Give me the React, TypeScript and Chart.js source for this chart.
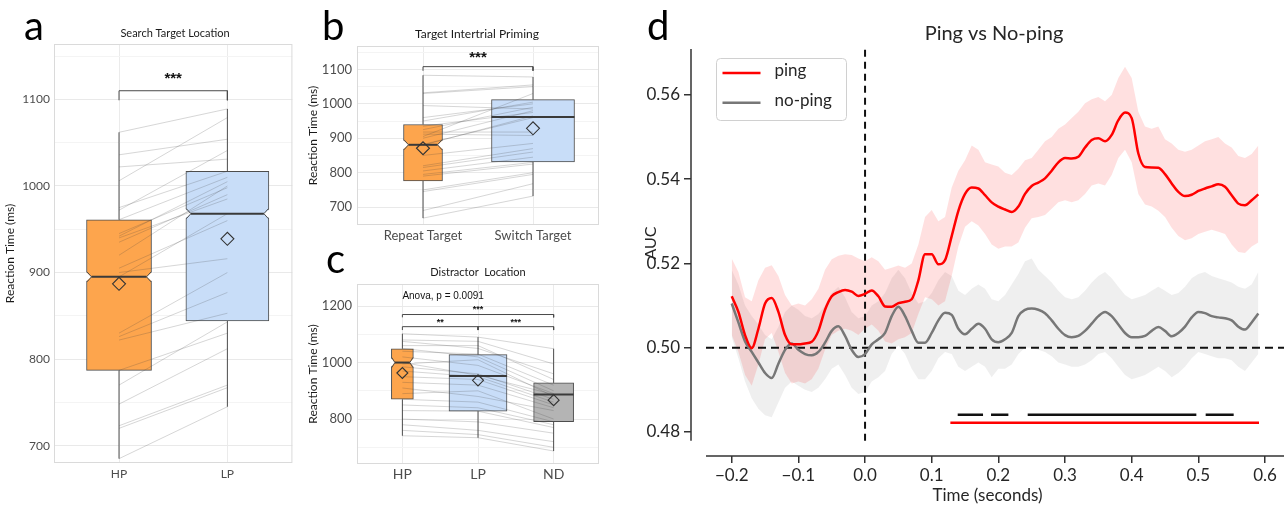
import React, { useEffect, useRef } from 'react';
import { Chart, registerables } from 'chart.js';

Chart.register(...registerables);

// ======================= DATA =======================
// ---- Panel a : Search Target Location ----
const A_CATEGORIES = ['HP', 'LP'];
const A_WHISKER_LOW = [685, 745];
const A_Q1 = [787, 844];
const A_MEDIAN = [895, 968];
const A_Q3 = [961, 1017];
const A_WHISKER_HIGH = [1062, 1089];
const A_MEAN = [887, 939];
const A_SUBJ_HP = [1062, 1036, 1022, 1006, 975, 972, 961, 945, 942, 940, 935, 920, 905, 900, 895, 830, 826, 822, 787, 770, 748, 723, 720, 685];
const A_SUBJ_LP = [1089, 1054, 1031, 1079, 1017, 1041, 1010, 998, 1005, 985, 990, 1000, 960, 916, 968, 900, 877, 853, 830, 843, 812, 770, 767, 745];
const A_Y_MAJOR = [700, 800, 900, 1000, 1100];
const A_Y_MINOR = [750, 850, 950, 1050, 1150];
const A_BRACKETS = [{ from: 1, to: 2, y: 1110, drop: 11 }];
const A_NOTES = [{ x: 1.5, y: 1129, text: '***', kind: 'stars' }];

// ---- Panel b : Target Intertrial Priming ----
const B_CATEGORIES = ['Repeat Target', 'Switch Target'];
const B_WHISKER_LOW = [668, 732];
const B_Q1 = [776, 831];
const B_MEDIAN = [881, 962];
const B_Q3 = [940, 1012];
const B_WHISKER_HIGH = [1083, 1078];
const B_MEAN = [871, 929];
const B_SUBJ_REPEAT = [1083, 1032, 1030, 995, 960, 950, 935, 925, 918, 912, 905, 900, 882, 880, 850, 820, 815, 805, 795, 790, 750, 745, 690, 668];
const B_SUBJ_SWITCH = [1078, 1055, 1050, 985, 1000, 1005, 975, 990, 918, 908, 1030, 980, 960, 965, 885, 870, 860, 845, 830, 825, 800, 795, 768, 732];
const B_Y_MAJOR = [700, 800, 900, 1000, 1100];
const B_Y_MINOR = [650, 750, 850, 950, 1050, 1150];
const B_BRACKETS = [{ from: 1, to: 2, y: 1108, drop: 12 }];
const B_NOTES = [{ x: 1.5, y: 1148, text: '***', kind: 'stars' }];

// ---- Panel c : Distractor Location ----
const C_CATEGORIES = ['HP', 'LP', 'ND'];
const C_WHISKER_LOW = [741, 734, 687];
const C_Q1 = [870, 828, 791];
const C_MEDIAN = [1000, 952, 887];
const C_Q3 = [1049, 1028, 928];
const C_WHISKER_HIGH = [1102, 1090, 1049];
const C_MEAN = [963, 937, 867];
const C_SUBJ_HP = [1102, 1080, 1075, 1060, 1050, 1040, 1020, 1000, 995, 985, 970, 950, 930, 910, 890, 870, 850, 830, 800, 780, 760, 741];
const C_SUBJ_LP = [1090, 1075, 1050, 1060, 1020, 1030, 990, 955, 1010, 960, 950, 940, 920, 880, 900, 860, 840, 828, 790, 760, 745, 734];
const C_SUBJ_ND = [1049, 995, 960, 940, 900, 920, 890, 887, 880, 870, 860, 850, 840, 830, 800, 790, 780, 770, 750, 720, 700, 687];
const C_Y_MAJOR = [800, 1000, 1200];
const C_Y_MINOR = [700, 900, 1100];
const C_BRACKETS = [
  { from: 1, to: 3, y: 1170, drop: 10 },
  { from: 1, to: 2, y: 1127, drop: 12 },
  { from: 2, to: 3, y: 1127, drop: 12 },
];
const C_NOTES = [
  { x: 1, y: 1236, text: 'Anova, p = 0.0091', kind: 'stat' },
  { x: 2, y: 1197, text: '***', kind: 'stars' },
  { x: 1.5, y: 1150, text: '**', kind: 'stars' },
  { x: 2.5, y: 1150, text: '***', kind: 'stars' },
];

// ---- Panel d : Ping vs No-ping (AUC time course) ----
const D_TIME = [
  -0.20, -0.19, -0.18, -0.17, -0.16, -0.15, -0.14, -0.13, -0.12, -0.11,
  -0.10, -0.09, -0.08, -0.07, -0.06, -0.05, -0.04, -0.03, -0.02, -0.01,
  0.00, 0.01, 0.02, 0.03, 0.04, 0.05, 0.06, 0.07, 0.08, 0.09,
  0.10, 0.11, 0.12, 0.13, 0.14, 0.15, 0.16, 0.17, 0.18, 0.19,
  0.20, 0.21, 0.22, 0.23, 0.24, 0.25, 0.26, 0.27, 0.28, 0.29,
  0.30, 0.31, 0.32, 0.33, 0.34, 0.35, 0.36, 0.37, 0.38, 0.39,
  0.40, 0.41, 0.42, 0.43, 0.44, 0.45, 0.46, 0.47, 0.48, 0.49,
  0.50, 0.51, 0.52, 0.53, 0.54, 0.55, 0.56, 0.57, 0.58, 0.59,
];
const PING_MEAN = [
  0.5122, 0.5085, 0.5030, 0.4999, 0.5045, 0.5105, 0.5118, 0.5085, 0.5030, 0.5008,
  0.5008, 0.5010, 0.5014, 0.5040, 0.5090, 0.5122, 0.5132, 0.5137, 0.5133, 0.5123,
  0.5128, 0.5136, 0.5122, 0.5098, 0.5097, 0.5106, 0.5109, 0.5115, 0.5160, 0.5222,
  0.5222, 0.5198, 0.5208, 0.5265, 0.5325, 0.5365, 0.5380, 0.5378, 0.5362, 0.5345,
  0.5335, 0.5328, 0.5322, 0.5335, 0.5365, 0.5384, 0.5392, 0.5402, 0.5420, 0.5440,
  0.5450, 0.5449, 0.5453, 0.5475, 0.5493, 0.5497, 0.5490, 0.5505, 0.5540, 0.5558,
  0.5545, 0.5461, 0.5429, 0.5428, 0.5427, 0.5412, 0.5390, 0.5370, 0.5360, 0.5363,
  0.5372, 0.5378, 0.5383, 0.5388, 0.5382, 0.5362, 0.5342, 0.5338, 0.5350, 0.5364,
];
const PING_UPPER = [
  0.5212, 0.5180, 0.5120, 0.5110, 0.5160, 0.5190, 0.5196, 0.5170, 0.5125, 0.5100,
  0.5105, 0.5100, 0.5115, 0.5140, 0.5185, 0.5210, 0.5218, 0.5222, 0.5220, 0.5212,
  0.5205, 0.5215, 0.5205, 0.5185, 0.5190, 0.5195, 0.5190, 0.5200, 0.5245, 0.5310,
  0.5327, 0.5300, 0.5310, 0.5380, 0.5420, 0.5445, 0.5480, 0.5470, 0.5440, 0.5435,
  0.5430, 0.5415, 0.5410, 0.5425, 0.5445, 0.5450, 0.5470, 0.5490, 0.5500, 0.5520,
  0.5530, 0.5545, 0.5560, 0.5580, 0.5590, 0.5595, 0.5585, 0.5600, 0.5640, 0.5667,
  0.5640, 0.5560, 0.5525, 0.5520, 0.5525, 0.5495, 0.5485, 0.5470, 0.5465, 0.5470,
  0.5480, 0.5490, 0.5495, 0.5500, 0.5485, 0.5475, 0.5455, 0.5450, 0.5460, 0.5480,
];
const PING_LOWER = [
  0.5030, 0.4990, 0.4935, 0.4910, 0.4960, 0.5020, 0.5035, 0.4990, 0.4940, 0.4915,
  0.4920, 0.4915, 0.4925, 0.4950, 0.4995, 0.5030, 0.5040, 0.5045, 0.5040, 0.5030,
  0.5045, 0.5055, 0.5040, 0.5015, 0.5010, 0.5020, 0.5025, 0.5035, 0.5080, 0.5120,
  0.5115, 0.5100, 0.5110, 0.5170, 0.5240, 0.5287, 0.5300, 0.5290, 0.5270, 0.5245,
  0.5235, 0.5240, 0.5240, 0.5250, 0.5285, 0.5307, 0.5310, 0.5315, 0.5330, 0.5345,
  0.5350, 0.5345, 0.5350, 0.5365, 0.5385, 0.5390, 0.5385, 0.5410, 0.5450, 0.5470,
  0.5440, 0.5365, 0.5340, 0.5335, 0.5325, 0.5310, 0.5285, 0.5265, 0.5255, 0.5260,
  0.5270, 0.5275, 0.5280, 0.5275, 0.5270, 0.5245, 0.5227, 0.5225, 0.5240, 0.5250,
];
const NOPING_MEAN = [
  0.5105, 0.5060, 0.5015, 0.4990, 0.4965, 0.4940, 0.4928, 0.4962, 0.4995, 0.5010,
  0.4995, 0.4985, 0.4982, 0.4990, 0.5012, 0.5040, 0.5051, 0.5028, 0.4995, 0.4978,
  0.4985, 0.5008, 0.5020, 0.5035, 0.5075, 0.5097, 0.5075, 0.5040, 0.5012, 0.5012,
  0.5035, 0.5065, 0.5083, 0.5078, 0.5045, 0.5032, 0.5045, 0.5057, 0.5045, 0.5020,
  0.5013, 0.5020, 0.5035, 0.5075, 0.5090, 0.5093, 0.5090, 0.5082, 0.5065, 0.5045,
  0.5030, 0.5025, 0.5028, 0.5040, 0.5057, 0.5075, 0.5085, 0.5075, 0.5055, 0.5035,
  0.5025, 0.5025, 0.5028, 0.5040, 0.5049, 0.5040, 0.5027, 0.5035, 0.5050, 0.5072,
  0.5085, 0.5082, 0.5075, 0.5072, 0.5070, 0.5065, 0.5050, 0.5043, 0.5060, 0.5081,
];
const NOPING_UPPER = [
  0.5185, 0.5150, 0.5100, 0.5075, 0.5055, 0.5030, 0.5020, 0.5050, 0.5085, 0.5100,
  0.5090, 0.5075, 0.5070, 0.5080, 0.5100, 0.5130, 0.5145, 0.5120, 0.5085, 0.5070,
  0.5075, 0.5100, 0.5110, 0.5130, 0.5165, 0.5185, 0.5165, 0.5130, 0.5105, 0.5110,
  0.5130, 0.5160, 0.5180, 0.5170, 0.5135, 0.5125, 0.5140, 0.5150, 0.5140, 0.5115,
  0.5110, 0.5125, 0.5150, 0.5175, 0.5205, 0.5212, 0.5185, 0.5170, 0.5155, 0.5135,
  0.5120, 0.5115, 0.5120, 0.5135, 0.5155, 0.5170, 0.5180, 0.5165, 0.5145, 0.5125,
  0.5115, 0.5120, 0.5125, 0.5135, 0.5145, 0.5135, 0.5125, 0.5130, 0.5145, 0.5165,
  0.5175, 0.5180, 0.5170, 0.5165, 0.5160, 0.5155, 0.5145, 0.5140, 0.5150, 0.5180,
];
const NOPING_LOWER = [
  0.5025, 0.4975, 0.4920, 0.4880, 0.4855, 0.4840, 0.4835, 0.4870, 0.4905, 0.4920,
  0.4910, 0.4900, 0.4895, 0.4905, 0.4925, 0.4950, 0.4960, 0.4935, 0.4905, 0.4890,
  0.4895, 0.4920, 0.4930, 0.4945, 0.4985, 0.5005, 0.4985, 0.4950, 0.4925, 0.4925,
  0.4945, 0.4975, 0.4990, 0.4985, 0.4955, 0.4945, 0.4955, 0.4965, 0.4955, 0.4930,
  0.4950, 0.4950, 0.4960, 0.4985, 0.5000, 0.5000, 0.4995, 0.4990, 0.4980, 0.4965,
  0.4960, 0.4955, 0.4955, 0.4960, 0.4970, 0.4985, 0.4990, 0.4975, 0.4955, 0.4935,
  0.4925, 0.4930, 0.4935, 0.4945, 0.4955, 0.4945, 0.4930, 0.4940, 0.4955, 0.4975,
  0.4990, 0.4985, 0.4980, 0.4975, 0.4975, 0.4970, 0.4955, 0.4945, 0.4965, 0.4985,
];
const D_SIG_PING_VS_NOPING = [[0.139, 0.177], [0.189, 0.215], [0.244, 0.497], [0.511, 0.553]];
const D_SIG_PING_VS_CHANCE = [[0.128, 0.591]];
const D_SIG_LEVEL_BLACK = 0.4841;
const D_SIG_LEVEL_RED = 0.4822;
const D_CHANCE = 0.5;
const D_ONSET = 0;
const D_X_LIMITS = [-0.2386, 0.6285];
const D_Y_LIMITS = [0.4779, 0.5709];

// ======================= STYLE =======================
const FONT = 'Lato';
const ORANGE = '#FDA54D';
const BLUE = '#C8DDF8';
const GREY_BOX = '#B4B4B4';

const PANEL_A = {
  cats: A_CATEGORIES, lo: A_WHISKER_LOW, q1: A_Q1, med: A_MEDIAN, q3: A_Q3, hi: A_WHISKER_HIGH, mean: A_MEAN,
  subjects: [A_SUBJ_HP, A_SUBJ_LP], major: A_Y_MAJOR, minor: A_Y_MINOR, brackets: A_BRACKETS, notes: A_NOTES,
  ylim: [680, 1164],
  size: { w: 300, h: 509 }, area: { left: 54, top: 44, right: 297, bottom: 463 },
  fills: [ORANGE, BLUE], widths: [65, 83], notch: [true, true], diamond: 6.5,
  tickSize: 12, xTickSize: 12, yTickPad: 4, xTickPad: 4, yTitlePad: 3, starSize: 15, statSize: 10,
  letter: { text: 'a', x: 24, y: 40 }, title: { text: 'Search Target Location', x: 175, y: 37, size: 11 },
};
const PANEL_B = {
  cats: B_CATEGORIES, lo: B_WHISKER_LOW, q1: B_Q1, med: B_MEDIAN, q3: B_Q3, hi: B_WHISKER_HIGH, mean: B_MEAN,
  subjects: [B_SUBJ_REPEAT, B_SUBJ_SWITCH], major: B_Y_MAJOR, minor: B_Y_MINOR, brackets: B_BRACKETS, notes: B_NOTES,
  ylim: [648, 1168],
  size: { w: 324, h: 250 }, area: { left: 61, top: 46, right: 303, bottom: 225 },
  fills: [ORANGE, BLUE], widths: [39, 83], notch: [true, false], diamond: 6.5,
  tickSize: 13, xTickSize: 13, yTickPad: 5, xTickPad: 3, yTitlePad: 10, starSize: 15, statSize: 10,
  letter: { text: 'b', x: 26, y: 40 }, title: { text: 'Target Intertrial Priming', x: 181, y: 38, size: 12 },
};
const PANEL_C = {
  cats: C_CATEGORIES, lo: C_WHISKER_LOW, q1: C_Q1, med: C_MEDIAN, q3: C_Q3, hi: C_WHISKER_HIGH, mean: C_MEAN,
  subjects: [C_SUBJ_HP, C_SUBJ_LP, C_SUBJ_ND], major: C_Y_MAJOR, minor: C_Y_MINOR, brackets: C_BRACKETS, notes: C_NOTES,
  ylim: [641, 1278],
  size: { w: 324, h: 259 }, area: { left: 61, top: 34, right: 303, bottom: 214 },
  fills: [ORANGE, BLUE, GREY_BOX], widths: [22, 58, 40], notch: [true, false, false], diamond: 5.5,
  tickSize: 13, xTickSize: 14, yTickPad: 5, xTickPad: 2, yTitlePad: 10, starSize: 9, statSize: 10,
  letter: { text: 'c', x: 30, y: 23 }, title: { text: 'Distractor  Location', x: 182, y: 26, size: 11 },
};

// ======================= BOX PANELS =======================
function boxChart(canvas: HTMLCanvasElement, p: any) {
  const n = p.cats.length;
  const xs = p.cats.map((_: string, i: number) => i + 1);
  const datasets: any[] = [];

  datasets.push({
    type: 'line', label: 'mean',
    data: p.mean.map((m: number, i: number) => ({ x: xs[i], y: m })),
    showLine: false, pointStyle: 'rectRot', pointRadius: p.diamond,
    pointBorderColor: '#333333', pointBackgroundColor: 'rgba(0,0,0,0)', pointBorderWidth: 1.1, order: 0,
  });
  const nSub = p.subjects[0].length;
  for (let s = 0; s < nSub; s++) {
    datasets.push({
      type: 'line', label: 'subject ' + (s + 1),
      data: p.subjects.map((arr: number[], i: number) => ({ x: xs[i], y: arr[s] })),
      borderColor: 'rgba(60,60,60,0.24)', borderWidth: 0.9, pointRadius: 0, order: 1,
    });
  }
  for (const b of p.brackets) {
    datasets.push({
      type: 'line', label: 'bracket',
      data: [{ x: b.from, y: b.y - b.drop }, { x: b.from, y: b.y }, { x: b.to, y: b.y }, { x: b.to, y: b.y - b.drop }],
      borderColor: '#4a4a4a', borderWidth: 1, pointRadius: 0, order: 1,
    });
  }
  for (let i = 0; i < n; i++) {
    datasets.push({
      type: 'bar', label: 'box ' + p.cats[i],
      data: [{ x: xs[i], y: [p.q1[i], p.q3[i]] }],
      backgroundColor: p.fills[i], borderColor: '#4d4d4d', borderWidth: 1, borderSkipped: false,
      grouped: false, barThickness: p.widths[i], maxBarThickness: p.widths[i], order: 2, boxIndex: i,
    });
    datasets.push({
      type: 'line', label: 'whisker ' + p.cats[i],
      data: [
        { x: xs[i], y: p.lo[i] }, { x: xs[i], y: p.q1[i] }, { x: xs[i], y: null },
        { x: xs[i], y: p.q3[i] }, { x: xs[i], y: p.hi[i] },
      ],
      spanGaps: false, borderColor: '#4d4d4d', borderWidth: 1, pointRadius: 0, order: 3,
    });
  }

  const allTicks = [...p.major, ...p.minor].sort((a: number, b: number) => a - b);

  const boxPlugin = {
    id: 'boxExtras',
    beforeDatasetsDraw(chart: any) {
      const { ctx, chartArea } = chart;
      ctx.save();
      ctx.strokeStyle = '#dadada';
      ctx.lineWidth = 1;
      ctx.strokeRect(chartArea.left + 0.5, chartArea.top + 0.5, chartArea.right - chartArea.left - 1, chartArea.bottom - chartArea.top - 1);
      ctx.restore();
    },
    afterDatasetDraw(chart: any, args: any) {
      const ds = chart.data.datasets[args.index];
      if (ds.boxIndex === undefined) return;
      const i = ds.boxIndex;
      const el = args.meta.data[0];
      if (!el) return;
      const { x, width } = el.getProps(['x', 'width'], true);
      const my = chart.scales.y.getPixelForValue(p.med[i]);
      const l = x - width / 2;
      const r = x + width / 2;
      const ctx = chart.ctx;
      ctx.save();
      let ml = l, mr = r;
      if (p.notch[i]) {
        const d = Math.min(5, width * 0.16);
        const h = 5;
        ctx.fillStyle = '#ffffff';
        ctx.beginPath();
        ctx.moveTo(l - 1, my - h); ctx.lineTo(l + d, my); ctx.lineTo(l - 1, my + h); ctx.closePath();
        ctx.moveTo(r + 1, my - h); ctx.lineTo(r - d, my); ctx.lineTo(r + 1, my + h); ctx.closePath();
        ctx.fill();
        ctx.strokeStyle = '#4d4d4d';
        ctx.lineWidth = 1;
        ctx.beginPath();
        ctx.moveTo(l + 0.5, my - h); ctx.lineTo(l + d, my); ctx.lineTo(l + 0.5, my + h);
        ctx.moveTo(r - 0.5, my - h); ctx.lineTo(r - d, my); ctx.lineTo(r - 0.5, my + h);
        ctx.stroke();
        ml = l + d; mr = r - d;
      }
      ctx.strokeStyle = '#3a3a3a';
      ctx.lineWidth = 2;
      ctx.beginPath();
      ctx.moveTo(ml, my); ctx.lineTo(mr, my);
      ctx.stroke();
      ctx.restore();
    },
    afterDraw(chart: any) {
      const ctx = chart.ctx;
      const xsS = chart.scales.x, ysS = chart.scales.y;
      ctx.save();
      ctx.fillStyle = '#000000';
      ctx.textAlign = 'left';
      ctx.textBaseline = 'alphabetic';
      ctx.font = `400 40px ${FONT}`;
      ctx.fillText(p.letter.text, p.letter.x, p.letter.y);
      ctx.fillStyle = '#1a1a1a';
      ctx.textAlign = 'center';
      ctx.font = `400 ${p.title.size}px ${FONT}`;
      ctx.fillText(p.title.text, p.title.x, p.title.y);
      for (const nt of p.notes) {
        const px = xsS.getPixelForValue(nt.x);
        const py = ysS.getPixelForValue(nt.y);
        if (nt.kind === 'stars') {
          ctx.font = `bold ${p.starSize}px "Liberation Sans"`;
          ctx.textAlign = 'center';
          ctx.textBaseline = 'alphabetic';
          ctx.fillStyle = '#111111';
          ctx.fillText(nt.text, px, py + 0.58 * p.starSize);
        } else {
          ctx.font = `${p.statSize}px "Liberation Sans"`;
          ctx.textAlign = 'left';
          ctx.textBaseline = 'middle';
          ctx.fillStyle = '#111111';
          ctx.fillText(nt.text, px, py);
        }
      }
      ctx.restore();
    },
  };

  return new Chart(canvas, {
    type: 'bar',
    data: { datasets },
    options: {
      responsive: false,
      animation: false,
      events: [],
      layout: { padding: { left: 0, top: p.area.top, right: p.size.w - p.area.right, bottom: 0 } },
      plugins: { legend: { display: false }, tooltip: { enabled: false } },
      scales: {
        x: {
          type: 'linear', min: 0.4, max: n + 0.6, offset: false,
          afterBuildTicks: (s: any) => { s.ticks = xs.map((v: number) => ({ value: v })); },
          ticks: {
            callback: (v: any) => p.cats[Number(v) - 1] ?? '',
            color: '#4d4d4d', font: { family: FONT, size: p.xTickSize }, padding: p.xTickPad,
            maxRotation: 0, autoSkip: false,
          },
          grid: { color: '#ebebeb', drawTicks: false, offset: false },
          border: { display: false },
          afterFit: (s: any) => { s.height = p.size.h - p.area.bottom; },
        },
        y: {
          type: 'linear', min: p.ylim[0], max: p.ylim[1], beginAtZero: false,
          afterBuildTicks: (s: any) => { s.ticks = allTicks.map((v: number) => ({ value: v })); },
          ticks: {
            callback: (v: any) => (p.major.includes(Number(v)) ? String(v) : ''),
            color: '#4d4d4d', font: { family: FONT, size: p.tickSize }, padding: p.yTickPad, autoSkip: false,
          },
          grid: {
            color: (c: any) => (c.tick && p.major.includes(c.tick.value) ? '#e9e9e9' : '#f4f4f4'),
            drawTicks: false,
          },
          border: { display: false },
          title: {
            display: true, text: 'Reaction Time (ms)', color: '#1a1a1a',
            font: { family: FONT, size: 12 }, padding: { top: p.yTitlePad, bottom: 0 },
          },
          afterFit: (s: any) => { s.width = p.area.left; },
        },
      },
    } as any,
    plugins: [boxPlugin],
  });
}

// ======================= PANEL D =======================
function aucChart(canvas: HTMLCanvasElement) {
  const pts = (vals: number[]) => D_TIME.map((t, i) => ({ x: t, y: vals[i] }));
  const segs = (list: number[][], level: number) =>
    list.flatMap(([a, b]) => [{ x: a, y: level }, { x: b, y: level }, { x: b, y: null }]);
  const band = { borderColor: 'rgba(0,0,0,0)', borderWidth: 0, pointRadius: 0, tension: 0 };

  const datasets: any[] = [
    { label: 'ping', data: pts(PING_MEAN), borderColor: '#ff0000', borderWidth: 2.5, pointRadius: 0, cubicInterpolationMode: 'monotone', fill: false, order: 0 },
    { label: 'no-ping', data: pts(NOPING_MEAN), borderColor: '#777777', borderWidth: 2.5, pointRadius: 0, cubicInterpolationMode: 'monotone', fill: false, order: 1 },
    { label: 'ping upper', data: pts(PING_UPPER), ...band, fill: '+1', backgroundColor: 'rgba(255,0,0,0.12)', order: 4 },
    { label: 'ping lower', data: pts(PING_LOWER), ...band, fill: false, order: 4 },
    { label: 'no-ping upper', data: pts(NOPING_UPPER), ...band, fill: '+1', backgroundColor: 'rgba(128,128,128,0.13)', order: 5 },
    { label: 'no-ping lower', data: pts(NOPING_LOWER), ...band, fill: false, order: 5 },
    { label: 'chance', data: [{ x: D_X_LIMITS[0], y: D_CHANCE }, { x: D_X_LIMITS[1], y: D_CHANCE }], borderColor: '#111111', borderWidth: 2, borderDash: [8, 5], pointRadius: 0, fill: false, order: 2 },
    { label: 'onset', data: [{ x: D_ONSET, y: D_Y_LIMITS[0] }, { x: D_ONSET, y: D_Y_LIMITS[1] }], borderColor: '#111111', borderWidth: 2, borderDash: [7, 5], pointRadius: 0, fill: false, order: 2 },
    { label: 'sig ping vs no-ping', data: segs(D_SIG_PING_VS_NOPING, D_SIG_LEVEL_BLACK), borderColor: '#111111', borderWidth: 2.5, pointRadius: 0, spanGaps: false, fill: false, order: 2 },
    { label: 'sig ping vs chance', data: segs(D_SIG_PING_VS_CHANCE, D_SIG_LEVEL_RED), borderColor: '#ff0000', borderWidth: 2.5, pointRadius: 0, spanGaps: false, fill: false, order: 2 },
  ];

  const dPlugin = {
    id: 'dExtras',
    afterDatasetsDraw(chart: any) {
      const { ctx, chartArea } = chart;
      const xS = chart.scales.x, yS = chart.scales.y;
      ctx.save();
      // spines (offset, seaborn style)
      ctx.strokeStyle = '#333333';
      ctx.lineWidth = 1.5;
      ctx.beginPath();
      ctx.moveTo(chartArea.left, yS.getPixelForValue(D_Y_LIMITS[0]));
      ctx.lineTo(chartArea.left, yS.getPixelForValue(D_Y_LIMITS[1]));
      ctx.moveTo(xS.getPixelForValue(D_X_LIMITS[0]), chartArea.bottom);
      ctx.lineTo(xS.getPixelForValue(D_X_LIMITS[1]), chartArea.bottom);
      ctx.stroke();
      // legend
      const bx = chartArea.left + 25.5, by = chartArea.top + 9.5, bw = 130, bh = 62;
      ctx.fillStyle = 'rgba(255,255,255,0.85)';
      ctx.strokeStyle = '#d0d0d0';
      ctx.lineWidth = 1;
      ctx.beginPath();
      (ctx as any).roundRect(bx, by, bw, bh, 4);
      ctx.fill();
      ctx.stroke();
      [0, 1].forEach((k) => {
        const ds = chart.data.datasets[k];
        const ly = by + 14.5 + k * 29.7;
        ctx.strokeStyle = ds.borderColor;
        ctx.lineWidth = 2.4;
        ctx.beginPath();
        ctx.moveTo(bx + 6, ly);
        ctx.lineTo(bx + 44, ly);
        ctx.stroke();
        ctx.fillStyle = '#262626';
        ctx.font = `17px ${FONT}`;
        ctx.textAlign = 'left';
        ctx.textBaseline = 'middle';
        ctx.fillText(ds.label, bx + 58, ly - 2);
      });
      ctx.restore();
    },
    afterDraw(chart: any) {
      const ctx = chart.ctx;
      ctx.save();
      ctx.fillStyle = '#000000';
      ctx.textBaseline = 'alphabetic';
      ctx.textAlign = 'left';
      ctx.font = `400 40px ${FONT}`;
      ctx.fillText('d', 17, 40);
      ctx.fillStyle = '#262626';
      ctx.textAlign = 'center';
      ctx.font = `400 20px ${FONT}`;
      ctx.fillText('Ping vs No-ping', 364, 40);
      // y-axis title
      ctx.save();
      ctx.translate(21, 243);
      ctx.rotate(-Math.PI / 2);
      ctx.font = `400 16px ${FONT}`;
      ctx.textAlign = 'center';
      ctx.textBaseline = 'middle';
      ctx.fillText('AUC', 0, 0);
      ctx.restore();
      ctx.restore();
    },
  };

  const fmtX = (v: any) => {
    const n = Number(v);
    const s = Math.abs(n).toFixed(1);
    return n < -1e-9 ? '\u2212' + s : s;
  };

  return new Chart(canvas, {
    type: 'line',
    data: { datasets },
    options: {
      responsive: false,
      animation: false,
      events: [],
      layout: { padding: { left: 0, top: 49, right: 4, bottom: 0 } },
      plugins: { legend: { display: false }, tooltip: { enabled: false } },
      scales: {
        x: {
          type: 'linear', min: -0.2611, max: 0.6285,
          ticks: { stepSize: 0.1, includeBounds: false, callback: fmtX, color: '#262626', font: { family: FONT, size: 17 }, padding: 2, maxRotation: 0, autoSkip: false },
          grid: { drawOnChartArea: false, drawTicks: true, tickLength: 7, color: '#333333', lineWidth: 1.5 },
          border: { display: false },
          title: { display: true, text: 'Time (seconds)', color: '#262626', font: { family: FONT, size: 17 }, padding: { top: 0, bottom: 3 } },
          afterFit: (s: any) => { s.height = 53; },
        },
        y: {
          type: 'linear', min: 0.4743, max: 0.5709,
          ticks: { stepSize: 0.02, includeBounds: false, callback: (v: any) => Number(v).toFixed(2), color: '#262626', font: { family: FONT, size: 17 }, padding: 4, autoSkip: false },
          grid: { drawOnChartArea: false, drawTicks: true, tickLength: 7, color: '#333333', lineWidth: 1.5 },
          border: { display: false },
          title: { display: false },
          afterFit: (s: any) => { s.width = 61; },
        },
      },
    } as any,
    plugins: [dPlugin],
  });
}

// ======================= COMPONENT =======================
export default function App() {
  const aRef = useRef<HTMLCanvasElement>(null);
  const bRef = useRef<HTMLCanvasElement>(null);
  const cRef = useRef<HTMLCanvasElement>(null);
  const dRef = useRef<HTMLCanvasElement>(null);

  useEffect(() => {
    const charts = [
      boxChart(aRef.current!, PANEL_A),
      boxChart(bRef.current!, PANEL_B),
      boxChart(cRef.current!, PANEL_C),
      aucChart(dRef.current!),
    ];
    return () => charts.forEach((c) => c.destroy());
  }, []);

  const cs = (l: number, t: number, w: number, h: number): React.CSSProperties => ({
    position: 'absolute', left: l, top: t, width: w, height: h, display: 'block',
  });

  return (
    <div style={{ position: 'absolute', left: 0, top: 0, width: 1288, height: 509, background: '#ffffff', overflow: 'hidden' }}>
      <canvas ref={aRef} width={300} height={509} style={cs(0, 0, 300, 509)} />
      <canvas ref={bRef} width={324} height={250} style={cs(296, 0, 324, 250)} />
      <canvas ref={cRef} width={324} height={259} style={cs(296, 250, 324, 259)} />
      <canvas ref={dRef} width={658} height={509} style={cs(630, 0, 658, 509)} />
    </div>
  );
}
